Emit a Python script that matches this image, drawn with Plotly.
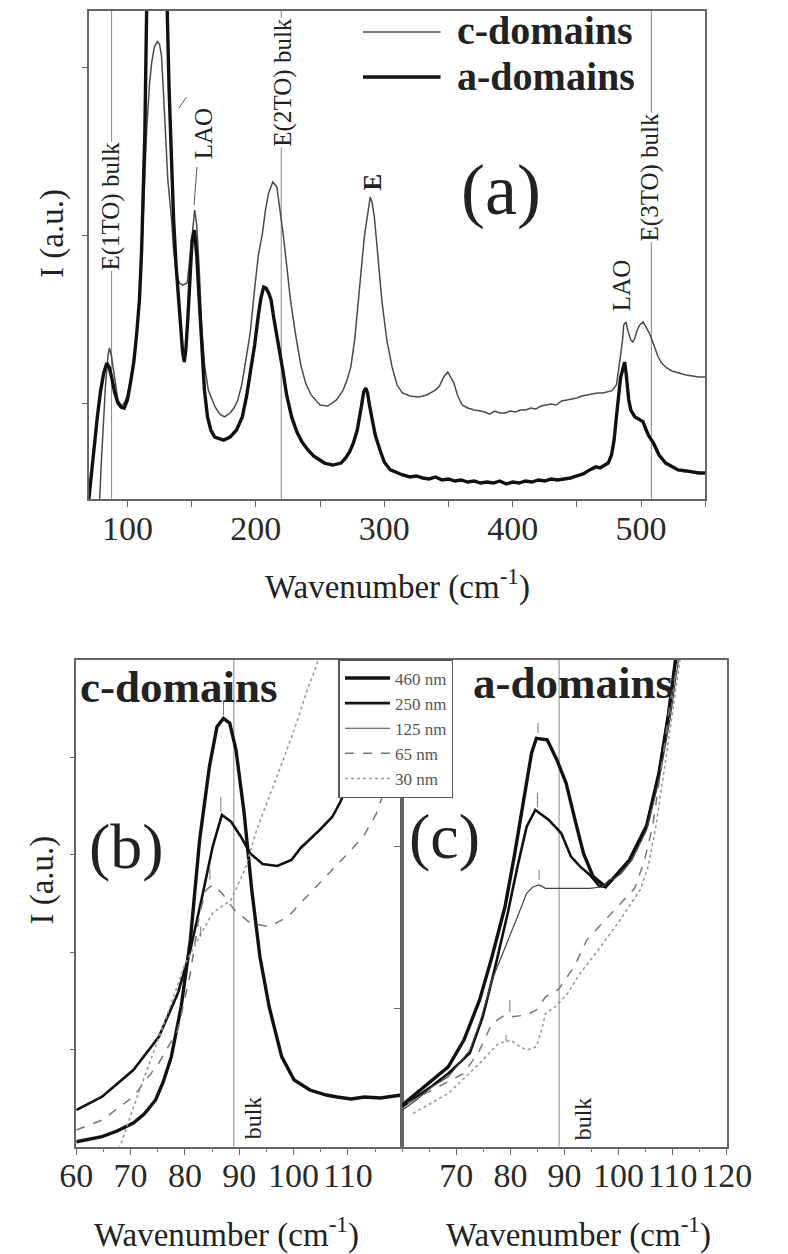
import plotly.graph_objects as go

W, H = 788, 1254
FONT = "Liberation Serif, Times New Roman, serif"


def fx(x):
    return x / W


def fy(y):
    return 1 - y / H


# ---------------- Panel (a): Raman spectra, (wavenumber, intensity) ----------------
A_DOMAINS = [(70, 428), (73, 660), (76.6, 917), (79, 1066), (81.6, 1179), (84, 1238), (86, 1209), (87.7, 1155),
             (90, 1066), (92.6, 1000), (95, 976), (97.5, 970), (100, 1018), (102.4, 1119), (105, 1244),
             (107.3, 1417), (109.4, 1614), (111.1, 1912), (112.5, 2270), (113.6, 2609), (115, 3343), (117, 4300),
             (120, 5800), (125, 7000), (128, 5800), (130, 4000), (131, 3343), (132.5, 2866), (134.4, 2407),
             (136, 2091), (138, 1811), (140, 1584), (141.8, 1417), (143, 1304), (144.3, 1244), (145.5, 1316),
             (147, 1495), (148, 1614), (150.4, 1972), (152.2, 2031), (154, 1882), (155.5, 1674), (157.5, 1435),
             (160, 1077), (162.4, 917), (165, 839), (168, 797), (170.3, 791), (175, 779), (179.9, 797), (185, 839),
             (189.5, 917), (193, 1048), (196, 1197), (199.1, 1346), (202, 1525), (204, 1626), (206.1, 1691),
             (208, 1685), (210, 1656), (211.9, 1614), (214, 1507), (216, 1405), (218.3, 1316), (221, 1197),
             (224, 1048), (227.9, 917), (232, 827), (236, 768), (240.6, 720), (245, 684), (253.5, 642), (260, 630),
             (266.4, 642), (270, 672), (273, 708), (276, 762), (279, 839), (282.4, 988), (284, 1066), (285.6, 1089),
             (287, 1060), (288.5, 988), (290.4, 917), (293, 809), (296.7, 720), (300, 648), (304.8, 601), (310, 583),
             (314.4, 571), (320, 559), (325, 565), (330, 553), (335, 547), (340, 559), (345, 541), (350, 547),
             (355, 535), (360, 541), (365, 529), (370, 535), (375, 523), (380, 529), (385, 523), (390, 535),
             (395, 517), (400, 529), (405, 523), (410, 535), (415, 529), (420, 541), (425, 535), (430, 547),
             (435, 541), (440, 547), (445, 553), (450, 565), (455, 577), (460, 601), (464.8, 619), (468, 613),
             (471, 624), (474.4, 642), (477, 690), (479, 779), (480.8, 917), (482.5, 1048), (484, 1149),
             (485.6, 1197), (487.2, 1244), (488.5, 1167), (490.4, 1018), (492, 958), (495.2, 917), (498, 905),
             (501.6, 887), (504, 839), (506, 803), (509.6, 762), (514, 690), (519.2, 642), (524, 619), (528.8, 601),
             (535, 595), (540, 589), (545, 583), (550, 583)]

C_DOMAINS = [(77, 362), (78.4, 428), (80, 690), (81.6, 917), (83, 1107), (84.8, 1274), (86, 1328), (87.5, 1286),
             (89, 1197), (91, 1089), (92.6, 1018), (95, 988), (96.3, 988), (98, 1006), (100, 1048), (102.4, 1137),
             (105, 1268), (107.3, 1435), (109.4, 1626), (111.1, 1882), (113, 2240), (115, 2627), (117.3, 2908),
             (119, 3033), (121, 3122), (123.4, 3154), (125, 3140), (126.5, 3074), (128, 2866), (129.4, 2609),
             (131.5, 2329), (134.3, 2103), (136, 1912), (138, 1775), (140.5, 1715), (143, 1703), (146.6, 1715),
             (148.5, 1852), (150.3, 2013), (152.4, 2150), (154, 2061), (156, 1793), (158, 1435), (160.3, 1215),
             (163, 1077), (168.3, 976), (172, 934), (175.7, 917), (180, 940), (183, 970), (186, 1018), (189, 1107),
             (192, 1244), (195.6, 1417), (199, 1674), (202, 1882), (205.2, 2013), (207.5, 2150), (210, 2252),
             (213.2, 2317), (216.4, 2288), (218.5, 2180), (221.2, 2013), (224, 1823), (227, 1614), (230.8, 1417),
             (235, 1227), (238.8, 1119), (243, 1048), (250, 988), (256, 982), (262.8, 1018), (268, 1077),
             (271, 1137), (274, 1215), (277, 1376), (280, 1614), (282, 1811), (284.5, 1990), (286.8, 2109),
             (289.1, 2228), (290.5, 2198), (292.3, 2109), (295, 1882), (298.1, 1614), (302, 1376), (306.1, 1215),
             (310, 1107), (314.1, 1060), (320, 1042), (326.9, 1036), (333, 1048), (339.9, 1077), (343, 1101),
             (346.3, 1155), (349.5, 1185), (352, 1149), (354.3, 1119), (357, 1048), (360.7, 988), (365, 970),
             (370, 958), (375, 952), (378.4, 946), (382, 934), (386, 952), (390, 940), (394.3, 940), (398, 952),
             (402, 946), (406, 958), (410.3, 958), (414, 970), (418, 964), (422, 982), (426.3, 988), (430, 994),
             (434, 988), (438, 1012), (442.3, 1018), (446, 1024), (450, 1030), (454, 1042), (458.3, 1048),
             (462, 1054), (466, 1060), (470, 1060), (474.4, 1066), (477, 1072), (479, 1089), (480.8, 1107),
             (482.5, 1197), (484, 1286), (485.6, 1376), (486.5, 1465), (488.2, 1483), (490, 1423), (492, 1376),
             (493.5, 1364), (495.2, 1387), (497, 1435), (499, 1465), (501.6, 1483), (503.5, 1459), (506.4, 1417),
             (510, 1346), (513, 1280), (516, 1238), (520, 1209), (524, 1191), (528.8, 1179), (535, 1167),
             (540, 1161), (545, 1155), (550, 1155)]

# bulk mode positions (cm-1) in panel (a)
BULK_A = [87.7, 219.8, 508]

# ---------------- Panel (b): c-domains, thickness series ----------------
B_460 = [(60, 51), (62.5, 74), (64.75, 103), (67.5, 161), (70.5, 243), (72.5, 336), (74.6, 480), (76, 665),
         (77.5, 925), (79.3, 1438), (81, 2124), (82.7, 3151), (84.5, 3904), (85.9, 4315), (87.1, 4401),
         (88.25, 4350), (89.4, 4076), (90.9, 3425), (92.3, 2637), (93.8, 1952), (95.5, 1438), (97.8, 925),
         (100.1, 685), (103, 582), (106, 531), (108, 511), (110.6, 490), (113, 511), (116, 500), (119.9, 531)]
B_250 = [(60, 377), (64.75, 514), (70.5, 788), (75.2, 1130), (78.7, 1576), (81, 2021), (83.3, 2603),
         (85.1, 3082), (86.8, 3408), (88.5, 3339), (90.3, 3185), (92, 3014), (94.3, 2904), (97, 2884),
         (99.6, 2946), (101.3, 3069), (104.8, 3254), (107.1, 3387), (108.6, 3541), (111, 3874), (114, 4388),
         (117, 5005), (120, 5621)]
B_65 = [(60, 172), (64.75, 274), (70.5, 514), (75.2, 860), (78.7, 1199), (81, 1782), (82.7, 2398), (83.9, 2637),
        (85.1, 2689), (86.8, 2606), (89.1, 2432), (92, 2298), (95.5, 2260), (99, 2363), (101.3, 2504),
        (105.4, 2740), (110.6, 3048), (112.9, 3192), (115.2, 3418), (118, 3870), (120, 4281)]
B_30 = [(67, -137), (68.2, 28), (71, 480), (74, 936), (77, 1394), (79.8, 1846), (83, 2196), (85.1, 2401),
        (88.5, 2535), (91, 2843), (93.2, 3254), (96.7, 3767), (100.1, 4281), (102.5, 4692), (104.2, 4939),
        (105.5, 5206)]

# ---------------- Panel (c): a-domains, thickness series ----------------
C_460 = [(60, 398), (62.6, 470), (65.5, 553), (68.5, 635), (71.4, 801), (74.3, 1050), (76.6, 1319), (79, 1629),
         (80.7, 1940), (82.4, 2292), (83.9, 2582), (84.8, 2675), (86.8, 2665), (88.6, 2540), (90.3, 2396),
         (91.8, 2188), (93.5, 1961), (95.3, 1816), (97.6, 1753), (99.9, 1837), (102, 1919), (105.2, 2133),
         (107.5, 2463), (109.2, 2820), (110.4, 3150), (111.5, 3410)]
C_250 = [(60, 387), (62.6, 448), (65.5, 516), (68.5, 594), (72.5, 720), (74.9, 946), (77.2, 1257), (79.5, 1588),
         (81.3, 1878), (83, 2126), (84.6, 2230), (87.1, 2168), (89.4, 2085), (91.2, 1940), (92.9, 1878),
         (94.7, 1826), (96.4, 1758), (97.6, 1753), (99.9, 1837), (102, 1919), (105.2, 2133), (107.5, 2463),
         (109.2, 2820), (110.4, 3150), (111.5, 3410)]
C_125 = [(60, 366), (62.6, 429), (65.5, 511), (68.5, 573), (72.5, 739), (74.3, 905), (76.6, 1174), (79, 1381),
         (81.3, 1567), (83, 1712), (84.2, 1753), (85.3, 1764), (86.5, 1743), (88.3, 1743), (91.8, 1743),
         (94.7, 1743), (97, 1753), (98.2, 1795), (99.3, 1806), (100.5, 1837), (102.5, 1919), (105.2, 2106),
         (107.5, 2416), (109.5, 2789), (110.8, 3099), (112, 3348)]
C_65 = [(61, 408), (65.5, 491), (71.4, 594), (74.3, 739), (76.6, 905), (79, 957), (80.2, 946), (83, 957),
        (84.8, 988), (86.5, 1070), (88.8, 1112), (91.8, 1257), (94.1, 1422), (96.4, 1505), (98.8, 1590),
        (101.1, 1671), (103, 1745), (104.8, 1919), (106.3, 2130), (108.1, 2540), (109.8, 2957), (111, 3149),
        (112, 3348)]
C_30 = [(62, 346), (65.5, 410), (68.5, 470), (71.5, 565), (74.3, 657), (77.8, 781), (80.1, 801), (81.3, 770),
        (83, 739), (84.8, 760), (85.6, 843), (86.5, 967), (88.3, 1008), (90.6, 1091), (92.9, 1216), (95.3, 1319),
        (97.6, 1422), (99.9, 1528), (102, 1634), (104, 1733), (105.5, 1882), (106.9, 2130), (108.7, 2540),
        (110.4, 2957), (111.3, 3149), (112.3, 3348)]

BULK_BC = 89

# peak marks (wavenumber, intensity low, intensity high)
B_MARKS = [(87.1, 4435, 4589), (86.6, 3439, 3593), (84.6, 2740, 2864), (82.9, 2158, 2260)]
C_MARKS = [(85.1, 2708, 2770), (85.0, 2248, 2335), (85.3, 1795, 1857), (79.9, 975, 1050), (79.2, 789, 832)]

STYLE = {
    "460 nm": dict(color="#111111", width=3.4),
    "250 nm": dict(color="#111111", width=2.6),
    "125 nm": dict(color="#444444", width=1.2),
    "65 nm": dict(color="#777777", width=1.5, dash="dash"),
    "30 nm": dict(color="#999999", width=1.6, dash="dot"),
}


def xs(pairs):
    return [p[0] for p in pairs]


def ys(pairs):
    return [p[1] for p in pairs]


fig = go.Figure()

# panel (a)
fig.add_trace(go.Scatter(x=xs(C_DOMAINS), y=ys(C_DOMAINS), mode="lines", name="c-domains",
                         line=dict(color="#4a4a4a", width=1.5), xaxis="x", yaxis="y", showlegend=False))
fig.add_trace(go.Scatter(x=xs(A_DOMAINS), y=ys(A_DOMAINS), mode="lines", name="a-domains",
                         line=dict(color="#111111", width=3.4), xaxis="x", yaxis="y", showlegend=False))

# panel (b)
for name, data in [("460 nm", B_460), ("250 nm", B_250), ("65 nm", B_65), ("30 nm", B_30)]:
    fig.add_trace(go.Scatter(x=xs(data), y=ys(data), mode="lines", name=name, line=STYLE[name],
                             xaxis="x2", yaxis="y2", showlegend=False, legendgroup=name))

# panel (c)
for name, data in [("460 nm", C_460), ("250 nm", C_250), ("125 nm", C_125), ("65 nm", C_65), ("30 nm", C_30)]:
    fig.add_trace(go.Scatter(x=xs(data), y=ys(data), mode="lines", name=name, line=STYLE[name],
                             xaxis="x3", yaxis="y3", showlegend=True, legend="legend2", legendgroup=name))

AX = dict(showline=True, linecolor="#666666", linewidth=1.5, mirror=True, showgrid=False, zeroline=False,
          ticks="outside", tickcolor="#666666", tickwidth=1.3, tickangle=0,
          tickfont=dict(family=FONT, size=34, color="#2a2a2a"))

fig.update_layout(
    width=W, height=H, autosize=False, margin=dict(l=0, r=0, t=0, b=0),
    paper_bgcolor="white", plot_bgcolor="white",
    font=dict(family=FONT, color="#222222"),
    xaxis=dict(AX, domain=[fx(76), fx(728)], anchor="y", range=[70, 550],
               tickvals=[100, 200, 300, 400, 500], ticklen=6, ticklabelstandoff=-8,
               minor=dict(tick0=50, dtick=50, ticks="outside", ticklen=6, tickcolor="#666666", showgrid=False)),
    yaxis=dict(AX, domain=[fy(499), fy(11)], anchor="x", range=[427.7, 3336.8],
               tickvals=[1000, 2000, 3000], showticklabels=False, ticklen=5),
    xaxis2=dict(AX, domain=[fx(62.7), fx(407.5)], anchor="y2", range=[60, 120],
                tickvals=[60, 70, 80, 90, 100, 110], ticklen=7, ticklabelstandoff=-9,
                minor=dict(tick0=60, dtick=5, ticks="outside", ticklen=4, tickcolor="#777777", showgrid=False)),
    yaxis2=dict(AX, domain=[fy(1146.7), fy(660)], anchor="x2", range=[0, 5000],
                tickvals=[1000, 2000, 3000, 4000], showticklabels=False, ticklen=5),
    xaxis3=dict(AX, domain=[fx(407.5), fx(750.7)], anchor="y3", range=[60, 120],
                tickvals=[70, 80, 90, 100, 110, 120], ticklen=7, ticklabelstandoff=-9,
                minor=dict(tick0=60, dtick=5, ticks="outside", ticklen=4, tickcolor="#777777", showgrid=False)),
    yaxis3=dict(AX, domain=[fy(1146.7), fy(660)], anchor="x3", range=[139, 3161],
                tickvals=[1000, 2000, 3000], showticklabels=False, ticklen=7),
    legend2=dict(x=fx(340), y=fy(659), xanchor="left", yanchor="top", bgcolor="white",
                 bordercolor="#555555", borderwidth=1.5, itemwidth=45, tracegroupgap=0,
                 font=dict(family=FONT, size=17, color="#555555")),
)

shapes = []
# bulk lines panel (a)
for w in BULK_A:
    shapes.append(dict(type="line", xref="x", yref="y domain", x0=w, x1=w, y0=0, y1=1,
                       line=dict(color="#8a8a8a", width=1), layer="below"))
# bulk lines panels (b), (c)
for ax in ["x2", "x3"]:
    shapes.append(dict(type="line", xref=ax, yref="y%s domain" % ax[1], x0=BULK_BC, x1=BULK_BC, y0=0, y1=1,
                       line=dict(color="#8a8a8a", width=1), layer="below"))
# LAO leader lines in (a)
shapes.append(dict(type="line", xref="x", yref="y", x0=154.2, y0=2407, x1=151.9, y1=2180,
                   line=dict(color="#555555", width=1)))
shapes.append(dict(type="line", xref="x", yref="y", x0=140.1, y0=2758, x1=146.0, y1=2824,
                   line=dict(color="#555555", width=1)))
# peak marks
for w, lo, hi in B_MARKS:
    shapes.append(dict(type="line", xref="x2", yref="y2", x0=w, x1=w, y0=lo, y1=hi,
                       line=dict(color="#777777", width=1)))
for w, lo, hi in C_MARKS:
    shapes.append(dict(type="line", xref="x3", yref="y3", x0=w, x1=w, y0=lo, y1=hi,
                       line=dict(color="#777777", width=1)))
# manual legend for panel (a)
shapes.append(dict(type="line", xref="paper", yref="paper", x0=fx(366), x1=fx(448), y0=fy(32), y1=fy(32),
                   line=dict(color="#4a4a4a", width=1.5)))
shapes.append(dict(type="line", xref="paper", yref="paper", x0=fx(366), x1=fx(448), y0=fy(77), y1=fy(77),
                   line=dict(color="#111111", width=3.4)))
fig.update_layout(shapes=shapes)


def ann(text, x, y, size, angle=0, bold=False, color="#222222", xanchor="center", bg=None):
    d = dict(text=("<b>%s</b>" % text) if bold else text, x=fx(x), y=fy(y), xref="paper", yref="paper",
             showarrow=False, textangle=angle, xanchor=xanchor, yanchor="middle",
             font=dict(family=FONT, size=size, color=color))
    if bg:
        d["bgcolor"] = bg
        d["borderpad"] = 0
    return d


annotations = [
    # axis titles
    ann("Wavenumber (cm<sup>-1</sup>)", 402, 584, 33),
    ann("Wavenumber (cm<sup>-1</sup>)", 222, 1232, 33),
    ann("Wavenumber (cm<sup>-1</sup>)", 594, 1232, 33),
    ann("I (a.u.)", 38, 233, 33, angle=-90),
    ann("I (a.u.)", 26, 880, 33, angle=-90),
    # panel (a) labels
    ann("E(1TO) bulk", 99, 207, 25, angle=-90, bg="white"),
    ann("LAO", 197, 134, 25, angle=-90),
    ann("E(2TO) bulk", 281, 83, 25, angle=-90, bg="white"),
    ann("E", 376, 182, 25, angle=-90, bold=True),
    ann("LAO", 639, 286, 25, angle=-90),
    ann("E(3TO) bulk", 670, 177, 25, angle=-90, bg="white"),
    ann("(a)", 512, 190, 72),
    ann("c-domains", 463, 30, 40, bold=True, xanchor="left"),
    ann("a-domains", 463, 77, 40, bold=True, xanchor="left"),
    # panel (b), (c) labels
    ann("c-domains", 65, 687, 45, bold=True, xanchor="left"),
    ann("a-domains", 480, 683, 45, bold=True, xanchor="left"),
    ann("(b)", 116, 846, 64),
    ann("(c)", 452, 836, 64),
    ann("bulk", 250, 1118, 24, angle=-90),
    ann("bulk", 599, 1119, 24, angle=-90),
]
fig.update_layout(annotations=annotations)

fig.write_html("out.html")
